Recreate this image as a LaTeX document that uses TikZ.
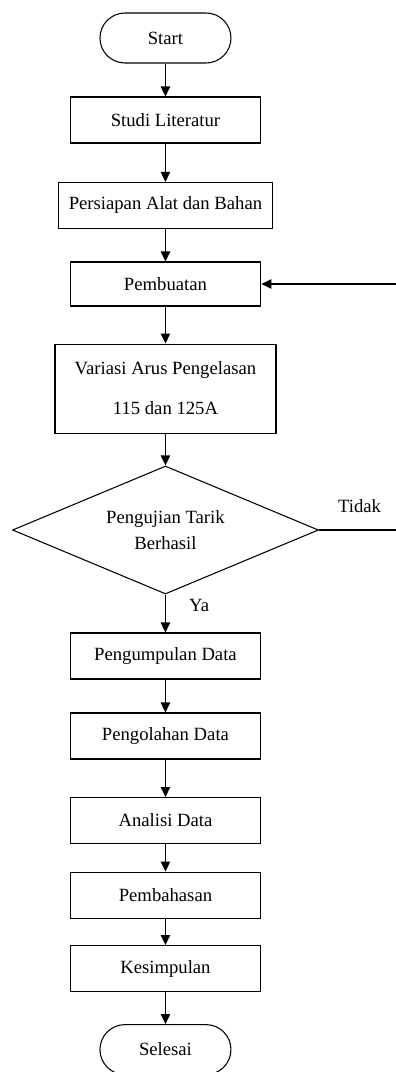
\documentclass[tikz,border=0pt]{standalone}
\usepackage{fontspec}
\setmainfont{Liberation Serif}
\usetikzlibrary{arrows.meta,shapes.geometric}
\tikzstyle{every box} = []
\tikzstyle{every flow} = []
\tikzstyle{box} = [rectangle, draw, black, line width=0.8pt,
                   minimum width=143pt, minimum height=34.5pt, align=center, every box]
\tikzstyle{terminal} = [box, rounded corners=18.75pt, minimum width=98.25pt, minimum height=37.5pt]
\tikzstyle{decision} = [diamond, aspect=2.4, draw, black, line width=0.8pt, inner sep=0pt,
                        minimum width=229.5pt, minimum height=96pt, align=center]
\tikzstyle{flow} = [-{Triangle[length=7.5pt,width=7pt]}, line width=0.9pt, every flow]

\begin{document}
\begin{tikzpicture}[font=\fontsize{14}{17}\selectfont]
            \useasboundingbox (0,0) rectangle (297pt,-804pt);
            \node[terminal]  (start)     at (124.1pt,-28.5pt)                           {Start};
            \node[box]       (studi)     [below of=start, node distance=61.5pt]          {Studi Literatur};
            \node[box, minimum width=160.5pt]
                             (persiapan) [below of=studi, node distance=64.1pt]          {Persiapan Alat dan Bahan};
            \node[box, minimum height=33pt]
                             (pembuatan) [below of=persiapan, node distance=58.9pt]      {Pembuatan};
            \node[box, minimum width=165.75pt, minimum height=66.75pt]
                             (variasi)   [below of=pembuatan, node distance=78.4pt]      {Variasi Arus Pengelasan\\[13pt]115 dan 125A};
            \node[decision]  (uji)       [below of=variasi, node distance=106.1pt]       {Pengujian Tarik\\[2pt]Berhasil};
            \node[box]       (kumpul)    [below of=uji, node distance=94.5pt]            {Pengumpulan Data};
            \node[box]       (olah)      [below of=kumpul, node distance=60pt]           {Pengolahan Data};
            \node[box]       (analisi)   [below of=olah, node distance=63.4pt]           {Analisi Data};
            \node[box]       (bahas)     [below of=analisi, node distance=55.9pt]        {Pembahasan};
            \node[box]       (simpul)    [below of=bahas, node distance=55.1pt]          {Kesimpulan};
            \node[terminal]  (selesai)   [below of=simpul, node distance=60.8pt]         {Selesai};
            \coordinate      (balik)     at (300pt,0);

            \draw[flow] (start) -- (studi);
            \draw[flow] (studi) -- (persiapan);
            \draw[flow] (persiapan) -- (pembuatan);
            \draw[flow] (pembuatan) -- (variasi);
            \draw[flow] (variasi) -- (uji);
            \draw[flow] (uji) -- node[pos=0.28, right=14pt] (ya) {Ya} (kumpul);
            \draw[flow] (kumpul) -- (olah);
            \draw[flow] (olah) -- (analisi);
            \draw[flow] (analisi) -- (bahas);
            \draw[flow] (bahas) -- (simpul);
            \draw[flow] (simpul) -- (selesai);
            \draw[flow] (uji.east) -- node[above=9pt] (tidak) {Tidak} (uji.east -| balik) |- (pembuatan.east);
\end{tikzpicture}
\end{document}
